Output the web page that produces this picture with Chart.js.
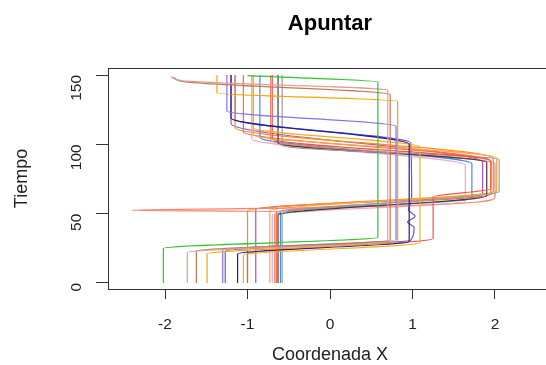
<!DOCTYPE html>
<html>
<head>
<meta charset="utf-8">
<script src="https://cdn.jsdelivr.net/npm/chart.js@4.4.1/dist/chart.umd.min.js"></script>
<style>
  html, body { margin: 0; padding: 0; background: #fff; overflow: hidden; }
  #wrap { width: 546px; height: 365px; overflow: hidden; }
</style>
</head>
<body>
<div id="wrap"><canvas id="myChart" width="552" height="365"></canvas></div>
<script>
// each trial: [coordenada x, tiempo] pairs
const ensayo1 = [[-2.02, 0], [-2.02, 25], [0.58, 33], [0.58, 145], [-1.0, 149.5]];
const ensayo2 = [[-1.73, 0], [-1.73, 22], [0.70, 30], [0.70, 139], [-1.8, 146], [-1.93, 149]];
const ensayo3 = [[-1.62, 0], [-1.62, 23], [0.73, 31], [0.73, 136], [-1.75, 145], [-1.9, 148.5]];
const ensayo4 = [[-1.49, 0], [-1.49, 21], [0.82, 30], [0.82, 131], [-1.37, 137], [-1.37, 150]];
const ensayo5 = [[-1.30, 0], [-1.30, 24], [0.80, 31], [0.80, 113], [-1.25, 124], [-1.25, 150]];
const ensayo6 = [[-1.12, 0], [-1.12, 21], [0.96, 30], [0.96, 100], [-1.2, 119], [-1.2, 150]];
const ensayo7 = [[-1.05, 0], [-1.05, 20], [1.09, 29], [1.09, 98], [-0.93, 112], [-0.93, 150]];
const ensayo8 = [[-1.0, 0], [-1.0, 21], [1.25, 32], [1.25, 62], [1.95, 68], [1.95, 88], [-0.7, 104], [-0.7, 150]];
const ensayo9 = [[-0.58, 0], [-0.58, 50], [2.05, 66], [2.05, 89], [-0.58, 99], [-0.58, 150]];
const ensayo10 = [[-0.63, 0], [-0.63, 49], [1.9, 63], [1.9, 87], [-0.63, 101], [-0.63, 150]];
const ensayo11 = [[-0.67, 0], [-0.67, 49], [-0.6, 51.5], [-2.4, 52.5], [0.1, 54.5], [2.0, 62], [2.0, 86], [-0.72, 103], [-0.72, 150]];
const ensayo12 = [[-0.73, 0], [-0.73, 52], [2.02, 66], [2.02, 90], [-0.93, 107], [-0.93, 150]];
const ensayo13 = [[-0.6, 0], [-0.6, 51], [1.72, 61], [1.72, 86], [-0.85, 105], [-0.85, 150]];
const ensayo14 = [[-0.7, 0], [-0.7, 49], [1.64, 59], [1.64, 85], [-0.95, 104], [-0.95, 150]];
const ensayo15 = [[-0.65, 0], [-0.65, 51], [1.95, 64], [1.95, 88], [-1.05, 109], [-1.05, 150]];
const ensayo16 = [[-1.0, 0], [-1.0, 52], [1.98, 66], [1.98, 90], [-1.15, 112], [-1.15, 150]];
const ensayo17 = [[-0.9, 0], [-0.9, 53], [1.85, 64], [1.85, 87], [-1.2, 115], [-1.2, 150]];
const ensayo18 = [[-1.27, 0], [-1.27, 23], [0.98, 31], [1.02, 40], [0.94, 44], [1.03, 48], [0.95, 53], [0.99, 60],
  [0.98, 101], [-1.15, 118], [-1.15, 150]];

const ensayos = [ensayo1, ensayo2, ensayo3, ensayo4, ensayo5, ensayo6, ensayo7, ensayo8, ensayo9,
  ensayo10, ensayo11, ensayo12, ensayo13, ensayo14, ensayo15, ensayo16, ensayo17, ensayo18];
const colores = ['#2fc42f', '#d9a0a0', '#c47a4e', '#f5a500', '#8b6fe8', '#1f1f99', '#f0b020', '#ee5a4a',
  '#9a9a9a', '#4a3a3a', '#f4856a', '#ffa54a', '#3a8ff0', '#f2a6c8', '#ff6a3d', '#ff8c1a', '#9b59d0', '#6a5acd'];

const xTicks = [-2, -1, 0, 1, 2];
const yTicks = [0, 50, 100, 150];
const titulo = 'Apuntar';

const font = 'Liberation Sans, Arial, Helvetica, sans-serif';

// R-style box around the plot region, title centred over it
const boxPlugin = {
  id: 'box',
  afterDraw(chart) {
    const { ctx, chartArea: a } = chart;
    ctx.save();
    ctx.strokeStyle = '#333';
    ctx.lineWidth = 1;
    ctx.strokeRect(a.left + 0.5, a.top + 0.5, a.right - a.left, a.bottom - a.top);
    ctx.fillStyle = '#000';
    ctx.font = 'bold 22px ' + font;
    ctx.textAlign = 'center';
    ctx.textBaseline = 'alphabetic';
    ctx.fillText(titulo, (a.left + a.right) / 2, 29.5);
    ctx.restore();
  }
};

const data = {
  datasets: ensayos.map((e, i) => ({
    data: e.map(p => ({ x: p[0], y: p[1] })),
    borderColor: colores[i],
    borderWidth: 1.2,
    pointRadius: 0,
    fill: false,
    cubicInterpolationMode: 'monotone'
  }))
};

const config = {
  type: 'line',
  data: data,
  options: {
    indexAxis: 'y',
    responsive: false,
    animation: false,
    layout: { padding: { top: 68, left: 0, right: 0, bottom: 0 } },
    plugins: {
      legend: { display: false },
      tooltip: { enabled: false },
      title: { display: false }
    },
    scales: {
      x: {
        type: 'linear',
        min: -2.691,
        max: 2.691,
        afterBuildTicks: s => { s.ticks = xTicks.map(v => ({ value: v })); },
        afterFit: s => { s.height = 76; },
        grid: { display: true, drawOnChartArea: false, drawTicks: true, tickLength: 10, tickColor: '#333' },
        border: { display: false },
        ticks: { color: '#222', font: { family: font, size: 15.5 }, padding: 16, maxRotation: 0 },
        title: { display: true, text: 'Coordenada X', color: '#222', font: { family: font, size: 18, lineHeight: 1 }, padding: { top: 0, bottom: 1 } }
      },
      y: {
        type: 'linear',
        min: -4.33,
        max: 155.05,
        afterBuildTicks: s => { s.ticks = yTicks.map(v => ({ value: v })); },
        afterFit: s => { s.width = 108; },
        grid: { display: true, drawOnChartArea: false, drawTicks: true, tickLength: 12, tickColor: '#333' },
        border: { display: false },
        ticks: { color: '#222', font: { family: font, size: 15.5 }, padding: 19, minRotation: 90, maxRotation: 90 },
        title: { display: true, text: 'Tiempo', color: '#222', font: { family: font, size: 18 }, padding: { top: 11, bottom: 0 } }
      }
    }
  },
  plugins: [boxPlugin]
};

const myChart = new Chart(document.getElementById('myChart'), config);
</script>
</body>
</html>
